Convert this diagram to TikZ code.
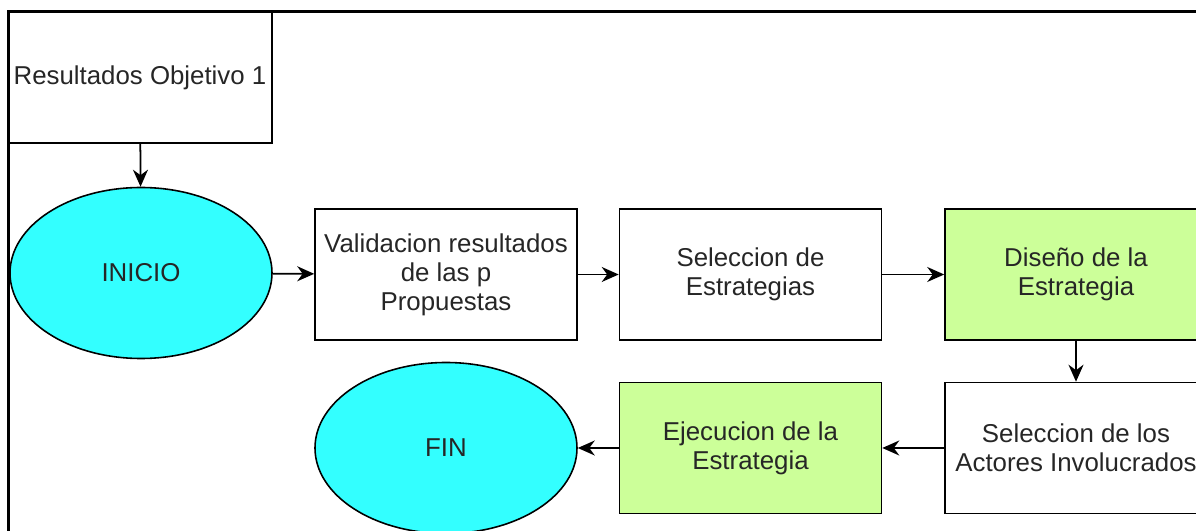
\documentclass[tikz,border=0pt]{standalone}
\usepackage{fontspec}
\setmainfont{Liberation Sans}
\usetikzlibrary{shapes.geometric,arrows.meta}
\definecolor{cian}{HTML}{33FFFF}
\definecolor{verde}{HTML}{CCFF99}

\begin{document}
\begin{tikzpicture}[
    caja/.style={draw, line width=0.9pt, minimum width=5.24cm, minimum height=2.62cm,
        align=center, text=black!85, font=\fontsize{14.7}{16.5}\selectfont},
    elipse/.style={ellipse, draw, fill=cian, line width=0.9pt, minimum width=5.24cm,
        minimum height=3.42cm, text=black!85, font=\fontsize{14.7}{16.5}\selectfont},
    flecha/.style={line width=1pt, -{Stealth[length=3.4mm,width=3mm,inset=1.1mm]}}
]
    %%%%% MARCO %%%%%
    \useasboundingbox (0, 0) rectangle (23.92, 10.62);
    \clip (0, 0) rectangle (23.92, 10.62);
    \draw[line width=1.5pt] (0.17, 0) -- (0.17, 10.39) -- (23.92, 10.39);

    %%%%% NODOS %%%%%
    \node[caja, minimum width=5.28cm] (res) at (2.8, 9.07) {Resultados Objetivo 1};
    \node[elipse] (inicio) at (2.82, 5.16) {INICIO};
    \node[caja] (valid) at (8.92, 5.13) {Validacion resultados\\de las p\\Propuestas};
    \node[caja] (selec) at (15.01, 5.13) {Seleccion de\\Estrategias};
    \node[caja, fill=verde] (diseno) at (21.52, 5.13) {Dise\~no de la\\Estrategia};
    \node[caja] (actores) at (21.52, 1.66) {Seleccion de los\\Actores Involucrados};
    \node[caja, fill=verde] (ejec) at (15.01, 1.66) {Ejecucion de la\\Estrategia};
    \node[elipse] (fin) at (8.92, 1.66) {FIN};

    %%%%% FLECHAS %%%%%
    \draw[flecha] (res) -- (inicio);
    \draw[flecha] (inicio) -- (valid);
    \draw[flecha] (valid) -- (selec);
    \draw[flecha] (selec) -- (diseno);
    \draw[flecha] (diseno) -- (actores);
    \draw[flecha] (actores) -- (ejec);
    \draw[flecha] (ejec) -- (fin);
\end{tikzpicture}
\end{document}
